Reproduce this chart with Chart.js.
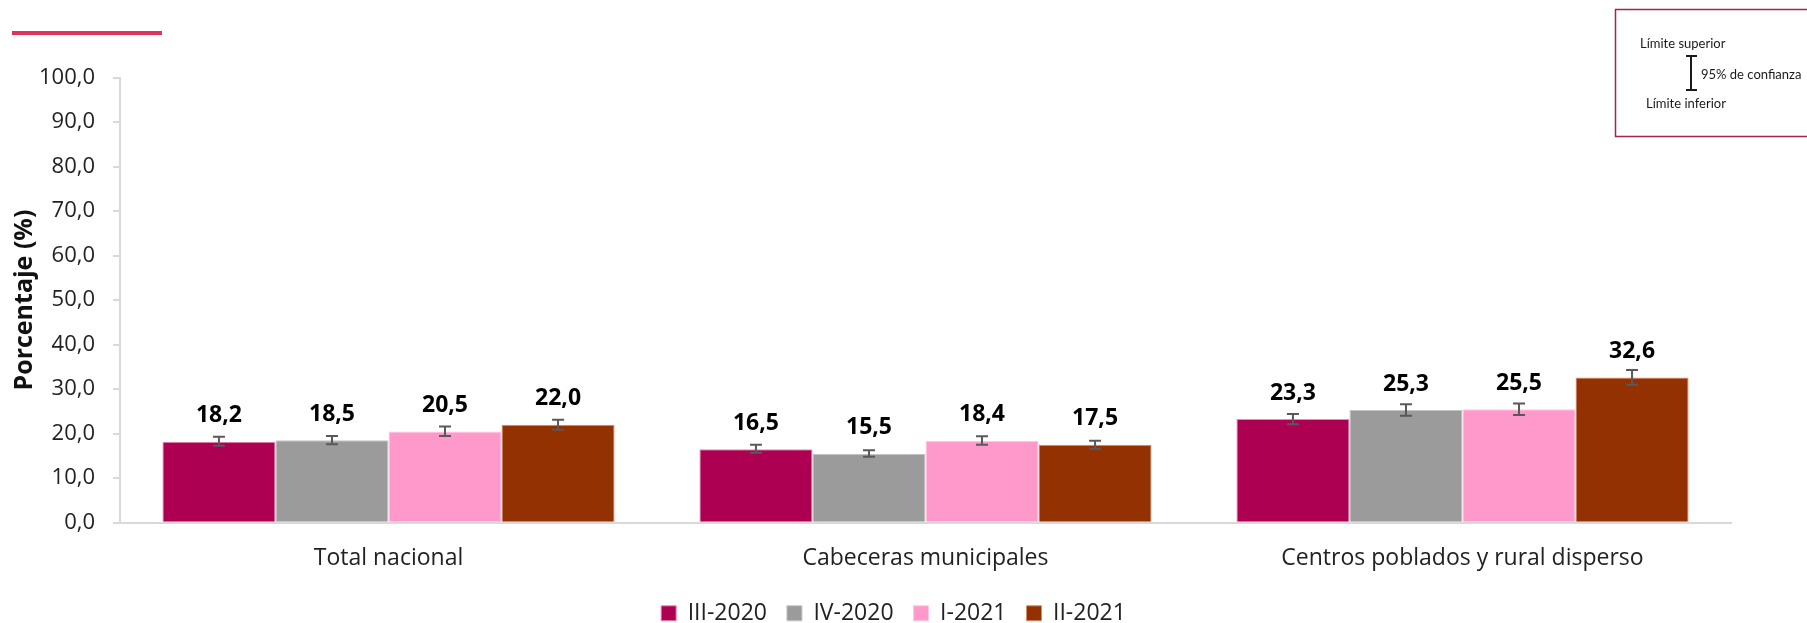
<!DOCTYPE html>
<html>
<head>
<meta charset="utf-8">
<script src="https://cdn.jsdelivr.net/npm/chart.js@4/dist/chart.umd.min.js"></script>
<style>
  html, body { margin: 0; padding: 0; background: #ffffff; }
  #wrap { width: 1807px; height: 623px; }
</style>
</head>
<body>
<div id="wrap"><canvas id="chart-canvas" width="1807" height="623"></canvas></div>
<script>
// categories and series
const categories = ["Total nacional", "Cabeceras municipales", "Centros poblados y rural disperso"];
const periods = ["III-2020", "IV-2020", "I-2021", "II-2021"];

const pct_III2020 = [18.2, 16.5, 23.3];
const pct_IV2020 = [18.5, 15.5, 25.3];
const pct_I2021 = [20.5, 18.4, 25.5];
const pct_II2021 = [22.0, 17.5, 32.6];

// 95% confidence limits
const low_III2020 = [17.3, 15.7, 22.1];
const high_III2020 = [19.3, 17.5, 24.4];
const low_IV2020 = [17.6, 14.8, 24.0];
const high_IV2020 = [19.5, 16.3, 26.6];
const low_I2021 = [19.5, 17.5, 24.2];
const high_I2021 = [21.6, 19.4, 26.8];
const low_II2021 = [20.9, 16.6, 31.0];
const high_II2021 = [23.1, 18.4, 34.3];

const yTickMin = 0;
const yTickMax = 100;
const yTickStep = 10;

const fillColors = ["#ad0052", "#9b9b9b", "#ff99cc", "#943100"];
const edgeColors = ["#e48ab5", "#c4c4c4", "#ffc6e2", "#d98a6a"];

const seriesValues = [pct_III2020, pct_IV2020, pct_I2021, pct_II2021];
const seriesLow = [low_III2020, low_IV2020, low_I2021, low_II2021];
const seriesHigh = [high_III2020, high_IV2020, high_I2021, high_II2021];

const FONT = "'Open Sans', 'Noto Sans', sans-serif";

function fmt(v) {
    return v.toFixed(1).replace(".", ",");
}

let datasets = periods.map(function(p, i) {
    return {
        label: p,
        data: seriesValues[i],
        low: seriesLow[i],
        high: seriesHigh[i],
        backgroundColor: fillColors[i],
        borderColor: edgeColors[i],
        borderWidth: 1,
        borderSkipped: "bottom",
        barPercentage: 1.0,
        categoryPercentage: 0.842
    };
});

// error bars + value labels on top of every bar
const barExtras = {
    id: "barExtras",
    afterDatasetsDraw: function(chart) {
        const ctx = chart.ctx;
        const y = chart.scales.y;
        chart.data.datasets.forEach(function(ds, i) {
            const meta = chart.getDatasetMeta(i);
            meta.data.forEach(function(bar, j) {
                const yLo = y.getPixelForValue(ds.low[j]);
                const yHi = y.getPixelForValue(ds.high[j]);
                ctx.save();
                ctx.strokeStyle = "#595959";
                ctx.lineWidth = 2;
                ctx.beginPath();
                ctx.moveTo(bar.x, yLo);
                ctx.lineTo(bar.x, yHi);
                ctx.moveTo(bar.x - 6, yLo);
                ctx.lineTo(bar.x + 6, yLo);
                ctx.moveTo(bar.x - 6, yHi);
                ctx.lineTo(bar.x + 6, yHi);
                ctx.stroke();

                ctx.fillStyle = "#000000";
                ctx.font = "bold 23px " + FONT;
                ctx.textAlign = "center";
                ctx.textBaseline = "middle";
                ctx.fillText(fmt(ds.data[j]), bar.x, bar.y - 26);
                ctx.restore();
            });
        });
    }
};

// accent rule at top left and the confidence-interval key at top right
const decorations = {
    id: "decorations",
    afterLayout: function(chart) {
        // legend sits a bit right of the full canvas centre
        if (chart.legend) {
            chart.legend.left = 0;
            chart.legend.right = 1787;
        }
    },
    beforeDraw: function(chart) {
        const ctx = chart.ctx;
        ctx.save();
        ctx.fillStyle = "#ffffff";
        ctx.fillRect(0, 0, chart.width, chart.height);
        ctx.fillStyle = "#e2335f";
        ctx.fillRect(12, 31, 150, 4);
        ctx.restore();
    },
    afterDraw: function(chart) {
        const ctx = chart.ctx;
        ctx.save();
        ctx.strokeStyle = "#a5234f";
        ctx.lineWidth = 1.5;
        ctx.beginPath();
        ctx.moveTo(chart.width + 2, 9.5);
        ctx.lineTo(1615.5, 9.5);
        ctx.lineTo(1615.5, 136.5);
        ctx.lineTo(chart.width + 2, 136.5);
        ctx.stroke();

        ctx.strokeStyle = "#1a1a1a";
        ctx.lineWidth = 2;
        ctx.beginPath();
        ctx.moveTo(1691, 56);
        ctx.lineTo(1691, 90);
        ctx.moveTo(1686, 56);
        ctx.lineTo(1697, 56);
        ctx.moveTo(1686, 90);
        ctx.lineTo(1697, 90);
        ctx.stroke();

        ctx.fillStyle = "#1a1a1a";
        ctx.font = "13px Lato, sans-serif";
        ctx.textAlign = "left";
        ctx.textBaseline = "middle";
        ctx.fillText("Límite superior", 1640, 44);
        ctx.fillText("95% de confianza", 1701, 75);
        ctx.fillText("Límite inferior", 1646, 104);
        ctx.restore();
    }
};

const chartJSChart = new Chart("chart-canvas", {
    type: "bar",
    data: {
        labels: categories,
        datasets: datasets
    },
    plugins: [decorations, barExtras],
    options: {
        responsive: false,
        devicePixelRatio: 1,
        animation: false,
        layout: {
            padding: { top: 77.5, right: 76, bottom: -11.8, left: 0 }
        },
        plugins: {
            tooltip: { enabled: false },
            legend: {
                display: true,
                position: "bottom",
                labels: {
                    boxWidth: 15,
                    boxHeight: 15,
                    padding: 20,
                    color: "#222222",
                    font: { family: FONT, size: 23 }
                }
            }
        },
        scales: {
            x: {
                afterFit: function(scale) { scale.height = 59.1; },
                grid: { display: false, drawTicks: false },
                border: { display: true, color: "#d9d9d9", width: 2 },
                ticks: {
                    padding: 22,
                    color: "#222222",
                    font: { family: FONT, size: 23 }
                }
            },
            y: {
                min: yTickMin,
                max: yTickMax,
                afterFit: function(scale) { scale.width = 120; },
                grid: {
                    display: true,
                    drawOnChartArea: false,
                    drawTicks: true,
                    tickLength: 7,
                    color: "#d9d9d9",
                    lineWidth: 2
                },
                border: { display: true, color: "#d9d9d9", width: 2 },
                ticks: {
                    stepSize: yTickStep,
                    padding: 18,
                    color: "#222222",
                    font: { family: FONT, size: 22 },
                    callback: function(v) { return fmt(v); }
                },
                title: {
                    display: true,
                    text: "Porcentaje (%)",
                    color: "#111111",
                    padding: { top: 10, bottom: 0 },
                    font: { family: FONT, size: 25, weight: "bold" }
                }
            }
        }
    }
});
</script>
</body>
</html>
